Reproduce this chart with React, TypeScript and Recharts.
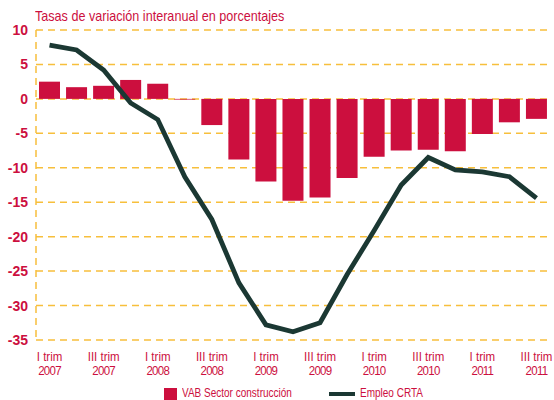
import React from "react";
import {
  ComposedChart,
  Bar,
  Line,
  XAxis,
  YAxis,
  CartesianGrid,
} from "recharts";

const quarters = [
  "I trim 2007", "II trim 2007", "III trim 2007", "IV trim 2007",
  "I trim 2008", "II trim 2008", "III trim 2008", "IV trim 2008",
  "I trim 2009", "II trim 2009", "III trim 2009", "IV trim 2009",
  "I trim 2010", "II trim 2010", "III trim 2010", "IV trim 2010",
  "I trim 2011", "II trim 2011", "III trim 2011",
];

const vabConstruccion = [
  2.5, 1.7, 1.9, 2.75, 2.2, -0.1, -3.8, -8.8, -12.0, -14.8,
  -14.3, -11.5, -8.4, -7.5, -7.4, -7.6, -5.1, -3.4, -2.9,
];

const empleoCrta = [
  7.8, 7.1, 4.2, -0.6, -3.0, -11.3, -17.5, -26.7, -32.8, -33.8,
  -32.5, -25.5, -19.1, -12.5, -8.5, -10.3, -10.6, -11.3, -14.4,
];

const yTicks = [10, 5, 0, -5, -10, -15, -20, -25, -30, -35];

const data = quarters.map((q, i) => ({
  q,
  vab: vabConstruccion[i],
  empleo: empleoCrta[i],
}));

const RED = "#cc0f3e";
const DARK = "#1b3833";
const GRID = "#f7bf3c";
const FONT = "'Liberation Sans', Arial, sans-serif";

// the original uses a condensed face, so squeeze Liberation Sans horizontally
const QuarterTick = (props: any) => {
  const { x, y, payload, index } = props;
  if (index % 2 !== 0) return null;
  const parts = String(payload.value).split(" ");
  const top = parts.slice(0, 2).join(" ");
  const year = parts[2];
  return (
    <g transform={`translate(${x},${y}) scale(0.92,1)`}>
      <text textAnchor="middle" fill={RED} fontFamily={FONT} fontSize={12.5}>
        <tspan x={0} y={13}>{top}</tspan>
        <tspan x={0} y={27.5} letterSpacing={-0.8}>{year}</tspan>
      </text>
    </g>
  );
};

const squeeze = (s: number): React.CSSProperties => ({
  position: "absolute",
  transform: `scaleX(${s})`,
  transformOrigin: "left top",
  whiteSpace: "nowrap",
  fontFamily: FONT,
  color: RED,
  lineHeight: 1,
});

export default function App() {
  return (
    <div
      style={{
        position: "absolute",
        left: 0,
        top: 0,
        width: 554,
        height: 400,
        background: "#fff",
        overflow: "hidden",
      }}
    >
      <div style={{ ...squeeze(0.84), left: 35, top: 8, fontSize: 15 }}>
        Tasas de variación interanual en porcentajes
      </div>
      <ComposedChart
        width={554}
        height={400}
        data={data}
        margin={{ top: 30, right: 4, bottom: 0, left: 0 }}
      >
        <CartesianGrid
          vertical={false}
          stroke={GRID}
          strokeWidth={1.5}
          strokeDasharray="7 5"
        />
        <XAxis
          dataKey="q"
          interval={0}
          axisLine={false}
          tickLine={false}
          height={60}
          tick={<QuarterTick />}
        />
        <YAxis
          width={36}
          domain={[-35, 10]}
          ticks={yTicks}
          interval={0}
          tickLine={false}
          axisLine={{ stroke: GRID, strokeWidth: 1.5, strokeDasharray: "7 5" }}
          tick={{
            fill: RED,
            fontSize: 14,
            fontWeight: "bold",
            fontFamily: FONT,
          }}
        />
        <Bar
          dataKey="vab"
          fill={RED}
          barSize={21}
          isAnimationActive={false}
        />
        <Line
          dataKey="empleo"
          type="linear"
          stroke={DARK}
          strokeWidth={4.8}
          dot={false}
          isAnimationActive={false}
        />
      </ComposedChart>
      <div
        style={{
          position: "absolute",
          left: 164,
          top: 388,
          width: 13,
          height: 13,
          background: RED,
        }}
      />
      <div style={{ ...squeeze(0.8), left: 182, top: 387, fontSize: 12.5 }}>
        VAB Sector construcción
      </div>
      <div
        style={{
          position: "absolute",
          left: 329,
          top: 392,
          width: 26,
          height: 4,
          background: DARK,
        }}
      />
      <div style={{ ...squeeze(0.8), left: 360, top: 387, fontSize: 12.5 }}>
        Empleo CRTA
      </div>
    </div>
  );
}
